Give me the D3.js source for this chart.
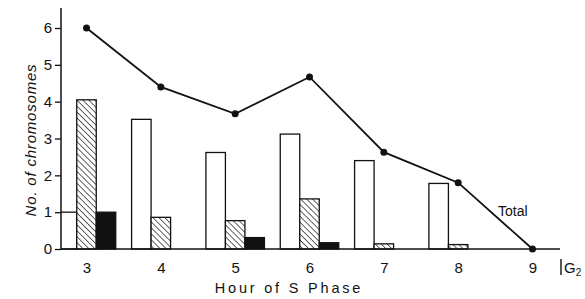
<!DOCTYPE html>
<html><head><meta charset="utf-8">
<script src="https://cdn.jsdelivr.net/npm/d3@7"></script>
<style>body{margin:0;background:#fff}svg{display:block}text{font-family:"Liberation Sans",Arial,sans-serif;fill:#111}</style>
</head><body>
<svg id="c" width="585" height="299"></svg>
<script>
const hours = [3,4,5,6,7,8,9];
const openVals = [1.0,3.52,2.62,3.12,2.40,1.78,0];
const hatchVals = [4.05,0.86,0.77,1.36,0.14,0.12,0];
const solidVals = [1.0,0,0.31,0.17,0,0,0];
const totalVals = [6.0,4.4,3.67,4.67,2.63,1.80,0];
const yTicks = [0,1,2,3,4,5,6];

const svg = d3.select("#c");
const x = d3.scaleLinear().domain([3,9]).range([86.5,532.5]);
const y = d3.scaleLinear().domain([0,6]).range([249,28]);
const axisX = 61, bw = 19.5;

const defs = svg.append("defs");
const pat = defs.append("pattern").attr("id","hatch").attr("patternUnits","userSpaceOnUse")
  .attr("width",4.2).attr("height",4.2).attr("patternTransform","rotate(-45)");
pat.append("rect").attr("width",4.2).attr("height",4.2).attr("fill","#fff");
pat.append("line").attr("x1",0).attr("y1",0).attr("x2",0).attr("y2",4.2).attr("stroke","#111").attr("stroke-width",1.3);
defs.append("clipPath").attr("id","clip").append("rect").attr("x",axisX).attr("y",0).attr("width",585).attr("height",299);

const g = svg.append("g").attr("clip-path","url(#clip)");
const idx = d3.range(hours.length);
function bars(vals, offset, fill){
  g.selectAll(null).data(idx.filter(i=>vals[i]>0)).enter().append("rect")
    .attr("x",i=>x(hours[i])+offset).attr("width",bw)
    .attr("y",i=>y(vals[i])).attr("height",i=>y(0)-y(vals[i]))
    .attr("fill",fill).attr("stroke","#111").attr("stroke-width",1.3);
}
bars(openVals,-1.5*bw,"#fff");
bars(hatchVals,-0.5*bw,"url(#hatch)");
bars(solidVals,0.5*bw,"#111");

// y axis
const ya = d3.axisLeft(y).tickValues(yTicks).tickSize(6).tickFormat(d3.format("d"));
const yg = svg.append("g").attr("transform",`translate(${axisX},0)`).call(ya);
yg.select(".domain").remove();
yg.selectAll(".tick line").attr("stroke","#111").attr("stroke-width",1.3);
yg.selectAll(".tick text").attr("font-size",15).attr("x",-9).attr("fill","#111");
svg.append("line").attr("x1",axisX).attr("x2",axisX).attr("y1",8).attr("y2",y(0)).attr("stroke","#111").attr("stroke-width",1.5);

// x axis baseline
svg.append("line").attr("x1",axisX).attr("x2",560).attr("y1",y(0)).attr("y2",y(0)).attr("stroke","#111").attr("stroke-width",1.5);
const xa = d3.axisBottom(x).tickValues(hours).tickSize(0).tickFormat(d3.format("d"));
const xg = svg.append("g").attr("transform",`translate(0,${y(0)})`).call(xa);
xg.select(".domain").remove();
xg.selectAll(".tick text").attr("font-size",15).attr("dy",0).attr("y",24).attr("fill","#111");

// total line
svg.append("path").datum(idx).attr("fill","none").attr("stroke","#111").attr("stroke-width",1.8)
  .attr("d",d3.line().x(i=>x(hours[i])).y(i=>y(totalVals[i])));
svg.selectAll(null).data(idx).enter().append("circle")
  .attr("cx",i=>x(hours[i])).attr("cy",i=>y(totalVals[i])).attr("r",3.5).attr("fill","#111");

svg.append("text").attr("x",498).attr("y",216).attr("font-size",14).text("Total");
svg.append("text").attr("x",289).attr("y",293).attr("text-anchor","middle").attr("font-size",14.5).attr("letter-spacing",2.8).text("Hour of S Phase");
svg.append("text").attr("transform","translate(36,140) rotate(-90)").attr("text-anchor","middle")
  .attr("font-size",15).attr("font-style","italic").attr("letter-spacing",0.8).text("No. of chromosomes");
svg.append("line").attr("x1",561).attr("x2",561).attr("y1",259).attr("y2",275).attr("stroke","#111").attr("stroke-width",1.4);
const gt = svg.append("text").attr("x",564).attr("y",273).attr("font-size",15).text("G");
gt.append("tspan").attr("font-size",10).attr("dy",3).text("2");
</script>
</body></html>
